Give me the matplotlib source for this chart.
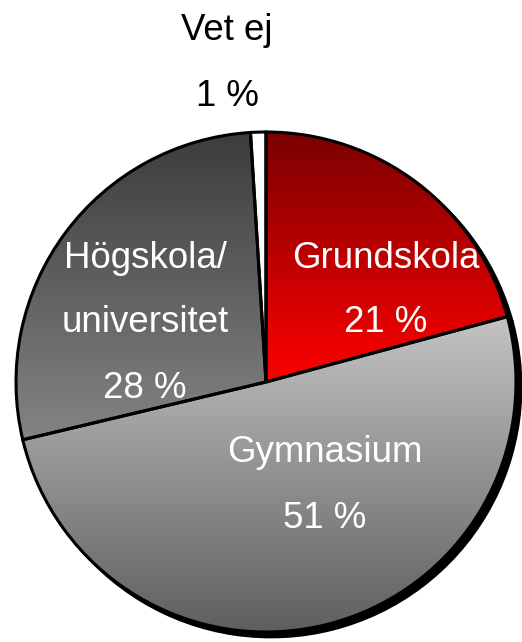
import numpy as np
import matplotlib
matplotlib.use('Agg')
import matplotlib.pyplot as plt
from matplotlib.colors import LinearSegmentedColormap

# Utbildningsnivå, andel i procent (medurs från kl. 12)
categories = ['Grundskola', 'Gymnasium', 'Högskola/\nuniversitet', 'Vet ej']
values = [21, 51, 28, 1]
value_labels = ['21 %', '51 %', '28 %', '1 %']

# gradient topp -> botten för varje tårtbit
grad_top = ['#7a0000', '#c4c4c4', '#3c3c3c', '#ffffff']
grad_bottom = ['#ff0000', '#5e5e5e', '#848484', '#ffffff']

W, H = 522, 642
fig = plt.figure(figsize=(W / 100, H / 100), dpi=100)
ax = fig.add_axes([0, 0, 1, 1])

cx, cy, r = 266, H - 382, 250

# skugga
shadow, _ = ax.pie(values, startangle=90, counterclock=False, radius=r,
                   center=(cx + 5, cy - 5), frame=True,
                   wedgeprops=dict(facecolor='black', edgecolor='black', linewidth=2))

wedges, _ = ax.pie(values, startangle=90, counterclock=False, radius=r,
                   center=(cx, cy), frame=True,
                   wedgeprops=dict(edgecolor='black', linewidth=2.2))

for w, c0, c1 in zip(wedges, grad_top, grad_bottom):
    v = w.get_path().vertices
    x0, x1 = v[:, 0].min(), v[:, 0].max()
    y0, y1 = v[:, 1].min(), v[:, 1].max()
    cmap = LinearSegmentedColormap.from_list('g', [c1, c0])
    grad = np.linspace(0, 1, 256).reshape(-1, 1)
    w.set_facecolor('white')
    im = ax.imshow(grad, cmap=cmap, extent=[x0, x1, y0, y1], origin='lower',
                   aspect='auto', zorder=w.get_zorder() + 0.1, interpolation='bilinear')
    im.set_clip_path(w)
    w.set_facecolor('none')
    w.set_zorder(w.get_zorder() + 0.2)

fs = 26.4
font = ['Liberation Sans', 'DejaVu Sans']
# (x, y) i pixlar för kategori- och procentrader
label_pos = [
    [(386, 258), (386, 323)],
    [(325, 453), (325, 518)],
    [(145, 258), (145, 322), (145, 388)],
    [(227, 30), (227, 97)],
]
for cat, val, pos, top in zip(categories, value_labels, label_pos, grad_top):
    lines = cat.split('\n') + [val]
    col = 'black' if top == '#ffffff' else 'white'
    for line, (px, py) in zip(lines, pos):
        ax.text(px, H - py, line, ha='center', va='center', fontsize=fs,
                family=font, color=col, zorder=10)

ax.set_xlim(0, W)
ax.set_ylim(0, H)
ax.set_aspect('equal')
ax.axis('off')

fig.savefig('out.png', dpi=100)
